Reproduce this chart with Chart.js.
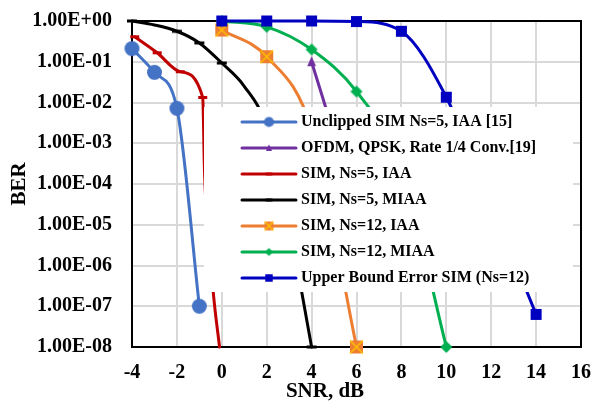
<!doctype html>
<html lang="en">
<head>
<meta charset="UTF-8">
<title>BER vs SNR</title>
<style>
    * { margin: 0; padding: 0; box-sizing: border-box; }
    body { background: #fff; }
    #chart { display: block; }
</style>
</head>
<body>

<canvas id="chart" width="594" height="403"></canvas>

<script src="https://cdn.jsdelivr.net/npm/chart.js"></script>

<script>
    // values (SNR in dB, BER)
    const snrUnclipped = [-4, -3, -2, -1];
    const berUnclipped = [0.21, 0.055, 0.0072, 1e-7];

    const snrOfdm = [4, 5, 6];
    const berOfdm = [0.1, 1.5e-3, 1e-5];

    const snrIaa5 = [-3.88, -2.88, -1.85, -0.85, -0.77, -0.38, -0.1];
    const berIaa5 = [0.41, 0.166, 0.057, 0.0133, 2e-4, 2.2e-7, 1e-8];

    const snrMiaa5 = [-4, -3, -2, -1, 0, 1, 2, 3, 4];
    const berMiaa5 = [1.0, 0.8, 0.56, 0.29, 0.093, 0.025, 2.5e-3, 1e-5, 1e-8];

    const snrIaa12 = [0, 2, 4, 6];
    const berIaa12 = [0.6, 0.133, 2.2e-3, 1e-8];

    const snrMiaa12 = [0, 2, 4, 6, 8, 10];
    const berMiaa12 = [1.0, 0.72, 0.2, 0.0186, 2.5e-4, 1e-8];

    const snrBound = [0, 2, 4, 6, 8, 10, 12, 14];
    const berBound = [1.0, 1.0, 1.0, 0.97, 0.56, 0.0135, 3.2e-5, 6.3e-8];

    const seriesLabels = [
        'Unclipped SIM Ns=5, IAA [15]',
        'OFDM, QPSK, Rate 1/4 Conv.[19]',
        'SIM, Ns=5, IAA',
        'SIM, Ns=5, MIAA',
        'SIM, Ns=12, IAA',
        'SIM, Ns=12, MIAA',
        'Upper Bound Error SIM (Ns=12)'
    ];
    const yTicks = [1, 1e-1, 1e-2, 1e-3, 1e-4, 1e-5, 1e-6, 1e-7, 1e-8];
    const xTitle = 'SNR, dB';
    const yTitle = 'BER';

    const FONT = '"Liberation Serif", "Times New Roman", serif';

    function makeMarker(kind, color, size) {
        const c = document.createElement('canvas');
        c.width = c.height = Math.ceil(size) + 4;
        const g = c.getContext('2d');
        const m = c.width / 2, h = size / 2;
        g.fillStyle = color;
        g.beginPath();
        if (kind === 'circle') {
            g.arc(m, m, h, 0, Math.PI * 2);
            g.fill();
        } else if (kind === 'square' || kind === 'squareX') {
            g.fillRect(m - h, m - h, size, size);
            if (kind === 'squareX') {
                g.strokeStyle = '#FFC000';
                g.lineWidth = 1.5;
                g.moveTo(m - h, m - h); g.lineTo(m + h, m + h);
                g.moveTo(m + h, m - h); g.lineTo(m - h, m + h);
                g.stroke();
            }
        } else if (kind === 'diamond') {
            g.moveTo(m, m - h); g.lineTo(m + h, m); g.lineTo(m, m + h); g.lineTo(m - h, m);
            g.closePath(); g.fill();
        } else if (kind === 'triangle') {
            g.moveTo(m, m - h); g.lineTo(m + h * 0.8, m + h * 0.8); g.lineTo(m - h * 0.8, m + h * 0.8);
            g.closePath(); g.fill();
        } else if (kind === 'dash') {
            g.fillRect(m - h, m - 1.5, size, 3);
        }
        return c;
    }

    const styles = [
        {color: '#4472C4', kind: 'circle', size: 15},
        {color: '#7030A0', kind: 'triangle', size: 11},
        {color: '#C00000', kind: 'dash', size: 9},
        {color: '#000000', kind: 'dash', size: 10},
        {color: '#ED7D31', kind: 'squareX', size: 13},
        {color: '#00B050', kind: 'diamond', size: 12},
        {color: '#0000C0', kind: 'square', size: 11}
    ];
    const chartMarkers = styles.map(s => makeMarker(s.kind, s.color, s.size));
    const legendMarkers = styles.map(s => makeMarker(s.kind, s.color, s.size * 0.68));

    const xs = [snrUnclipped, snrOfdm, snrIaa5, snrMiaa5, snrIaa12, snrMiaa12, snrBound];
    const ys = [berUnclipped, berOfdm, berIaa5, berMiaa5, berIaa12, berMiaa12, berBound];
    // which points carry a visible marker
    const shown = [
        [1, 1, 1, 1],
        [1, 0, 0],
        [1, 1, 1, 1, 0, 0, 0],
        [1, 0, 1, 1, 1, 0, 0, 0, 1],
        [1, 1, 1, 1],
        [1, 1, 1, 1, 1, 1],
        [1, 1, 1, 1, 1, 1, 1, 1]
    ];

    const datasets = seriesLabels.map((label, i) => ({
        label: label,
        data: xs[i].map((x, j) => ({x: x, y: ys[i][j]})),
        borderColor: styles[i].color,
        backgroundColor: styles[i].color,
        borderWidth: 3,
        borderCapStyle: 'round',
        borderJoinStyle: 'round',
        tension: 0.4,
        cubicInterpolationMode: 'monotone',
        pointStyle: chartMarkers[i],
        pointRadius: shown[i].map(v => v ? 5 : 0),
        clip: false,
        order: seriesLabels.length - i
    }));

    function sci(v) {
        const e = Math.round(Math.log10(v));
        const m = v / Math.pow(10, e);
        return m.toFixed(2) + 'E' + (e < 0 ? '-' : '+') + String(Math.abs(e)).padStart(2, '0');
    }

    const framePlugin = {
        id: 'frame',
        beforeDatasetsDraw(chart) {
            const a = chart.chartArea, ctx = chart.ctx;
            ctx.save();
            ctx.strokeStyle = '#000';
            ctx.lineWidth = 2;
            ctx.strokeRect(a.left, a.top, a.right - a.left, a.bottom - a.top);
            ctx.restore();
        }
    };

    const legendPlugin = {
        id: 'boxLegend',
        afterDatasetsDraw(chart) {
            const ctx = chart.ctx;
            ctx.save();
            ctx.fillStyle = '#fff';
            ctx.fillRect(204, 107, 369, 185);
            chart.data.datasets.forEach((ds, i) => {
                const y = 122 + i * 26;
                ctx.strokeStyle = ds.borderColor;
                ctx.lineWidth = 3;
                ctx.lineCap = 'round';
                ctx.beginPath();
                ctx.moveTo(242, y);
                ctx.lineTo(296, y);
                ctx.stroke();
                const mk = legendMarkers[i];
                ctx.drawImage(mk, 269 - mk.width / 2, y - mk.height / 2);
                ctx.fillStyle = '#000';
                ctx.font = 'bold 16px ' + FONT;
                ctx.textBaseline = 'middle';
                ctx.textAlign = 'left';
                ctx.fillText(ds.label, 301, y);
            });
            ctx.restore();
        },
        afterDraw(chart) {
            const ctx = chart.ctx;
            ctx.save();
            ctx.fillStyle = '#000';
            ctx.font = 'bold 21px ' + FONT;
            ctx.textAlign = 'center';
            ctx.textBaseline = 'middle';
            ctx.fillText(xTitle, 325, 392);
            ctx.translate(20, 184);
            ctx.rotate(-Math.PI / 2);
            ctx.fillText(yTitle, 0, 0);
            ctx.restore();
        }
    };

    new Chart(document.getElementById('chart'), {
        type: 'line',
        data: {datasets: datasets},
        options: {
            responsive: false,
            animation: false,
            devicePixelRatio: 1,
            layout: {padding: {top: 21, right: 13, left: 0, bottom: 0}},
            plugins: {
                legend: {display: false},
                tooltip: {enabled: false}
            },
            scales: {
                x: {
                    type: 'linear',
                    min: -4,
                    max: 16,
                    ticks: {
                        stepSize: 2,
                        padding: 14,
                        color: '#000',
                        font: {family: FONT, size: 20, weight: 'bold'},
                        callback: v => String(v)
                    },
                    grid: {color: '#D9D9D9', lineWidth: 2, drawTicks: false},
                    border: {display: false},
                    afterFit: s => { s.height = 56; s.paddingLeft = 0; s.paddingRight = 0; }
                },
                y: {
                    type: 'logarithmic',
                    min: 1e-8,
                    max: 1,
                    ticks: {
                        padding: 20,
                        color: '#000',
                        font: {family: FONT, size: 20, weight: 'bold'},
                        callback: v => sci(v)
                    },
                    afterBuildTicks: s => { s.ticks = yTicks.map(v => ({value: v})); },
                    grid: {color: '#D9D9D9', lineWidth: 2, drawTicks: false},
                    border: {display: false},
                    afterFit: s => { s.width = 132; s.paddingTop = 0; s.paddingBottom = 0; }
                }
            }
        },
        plugins: [framePlugin, legendPlugin]
    });
</script>

</body>
</html>
